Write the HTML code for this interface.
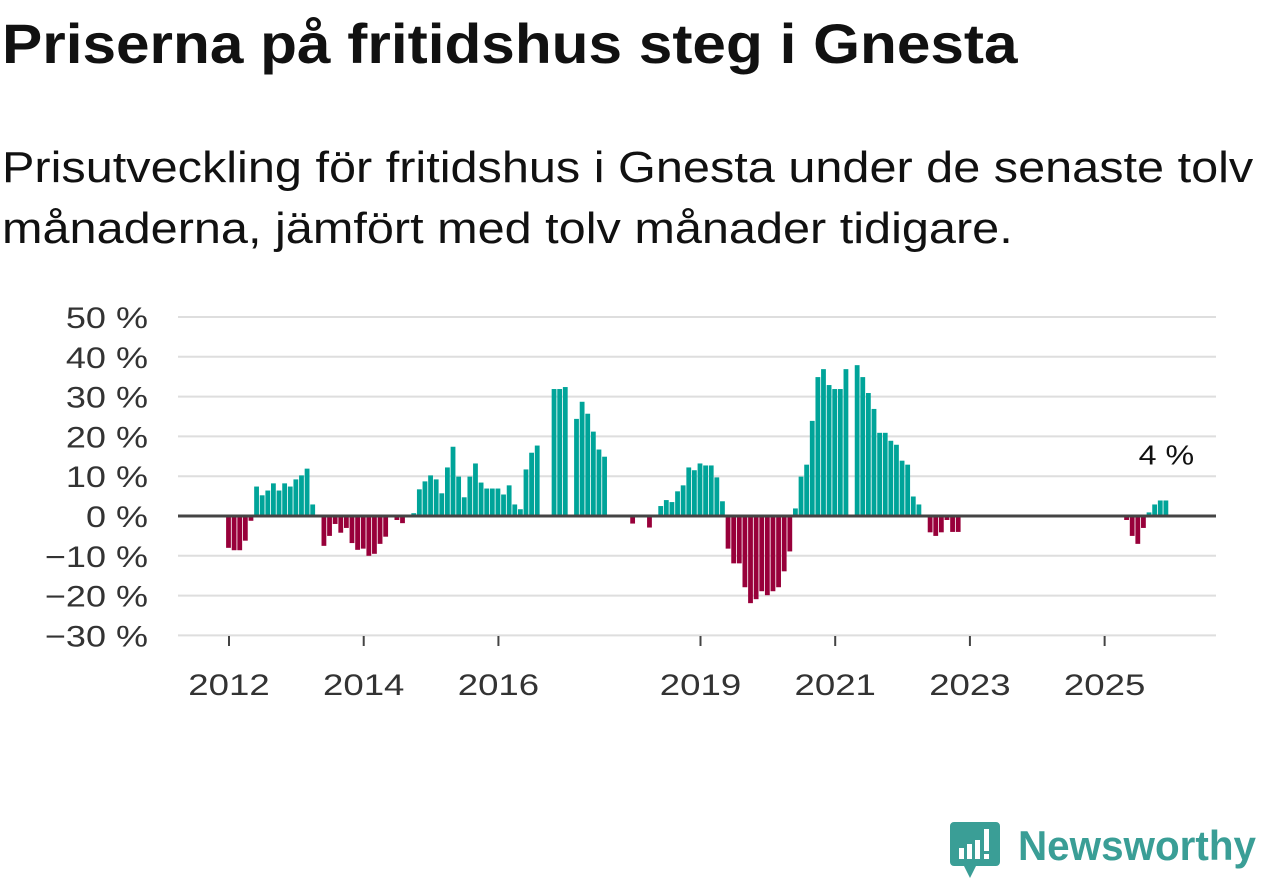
<!DOCTYPE html>
<html><head><meta charset="utf-8">
<style>
body{margin:0;width:1262px;height:879px;background:#fff;font-family:"Liberation Sans",sans-serif;overflow:hidden;position:relative}
#title{position:absolute;left:2px;top:12px;font-size:56px;line-height:1.149;font-weight:bold;color:#111;white-space:nowrap;transform-origin:0 0;transform:scaleX(1.077)}
#subtitle{position:absolute;left:2px;top:137px;font-size:44px;line-height:61px;color:#111;white-space:nowrap;transform-origin:0 0;transform:scaleX(1.105)}
#chart{position:absolute;left:0;top:0}
#logo{position:absolute;left:950px;top:818px}
</style></head><body>
<div id="title">Priserna på fritidshus steg i Gnesta</div>
<div id="subtitle">Prisutveckling för fritidshus i Gnesta under de senaste tolv<br>månaderna, jämfört med tolv månader tidigare.</div>
<svg id="chart" width="1262" height="879"></svg>
<svg id="logo" width="312" height="62">
<path d="M4 4h42a4 4 0 0 1 4 4v36a4 4 0 0 1-4 4H26l-6 12-6-12H4a4 4 0 0 1-4-4V8a4 4 0 0 1 4-4z" fill="#3a9e96"/>
<rect x="9" y="30" width="5" height="11" fill="#fff"/><rect x="17" y="26" width="5" height="15" fill="#fff"/><rect x="25" y="22" width="5" height="19" fill="#fff"/><rect x="34" y="11" width="5" height="22" fill="#fff"/><rect x="34" y="36" width="5" height="5" fill="#fff"/>
<text x="68" y="42" font-family="Liberation Sans, sans-serif" font-size="42" font-weight="bold" fill="#3a9e96" textLength="238" lengthAdjust="spacingAndGlyphs">Newsworthy</text>
</svg>
<script>
const years=["2012","2014","2016","2019","2021","2023","2025"];
const yearIdx=[0,24,48,84,108,132,156];
const yTicks=[50,40,30,20,10,0,-10,-20,-30];
const values=[-8,-8.6,-8.6,-6.2,-1.2,7.4,5.2,6.4,8.2,6.4,8.2,7.4,9.2,10.2,11.9,2.9,null,-7.5,-5,-2,-4.2,-3,-6.8,-8.5,-8.2,-10,-9.5,-7,-5.2,null,-1,-1.8,null,0.7,6.7,8.7,10.2,9.2,5.7,12.2,17.4,9.9,4.7,9.9,13.2,8.4,6.9,6.9,6.9,5.4,7.7,2.9,1.7,11.7,15.9,17.7,null,null,31.9,31.9,32.4,null,24.4,28.7,25.7,21.2,16.7,14.9,null,null,null,null,-1.9,null,null,-2.9,null,2.5,4,3.5,6.2,7.7,12.2,11.5,13.2,12.7,12.7,9.7,3.7,-8.2,-11.9,-11.9,-17.9,-21.9,-20.9,-18.9,-19.9,-18.9,-17.9,-13.9,-8.9,1.9,9.9,12.9,23.9,34.9,36.9,32.9,31.9,31.9,36.9,null,37.9,34.9,30.9,26.9,20.9,20.9,18.9,17.9,13.9,12.9,4.9,2.9,null,-4.1,-5,-4.1,-1,-4,-4,null,null,null,null,null,null,null,null,null,null,null,null,null,null,null,null,null,null,null,null,null,null,null,null,null,null,null,null,null,-1,-5,-7,-3,0.9,2.9,3.9,3.9];
const lastLabel="4 %";
const svg=document.getElementById('chart');
const NS="http://www.w3.org/2000/svg";
const y=v=>516-v*3.98;
const x=i=>228.5+i*5.613;
function mk(t,a){const e=document.createElementNS(NS,t);for(const k in a)e.setAttribute(k,a[k]);svg.appendChild(e);return e;}
function widen(el,f){const w=el.getComputedTextLength();el.setAttribute('textLength',(w*f).toFixed(1));el.setAttribute('lengthAdjust','spacingAndGlyphs');}
yTicks.forEach(t=>{
 if(t!==0){const g=mk('line',{x1:178,x2:1216,y1:y(t),y2:y(t),stroke:'#dedede','stroke-width':2});
 
 }
 const l=mk('text',{x:148,y:y(t)+11,'text-anchor':'end','font-size':30,fill:'#333','font-family':'Liberation Sans, sans-serif'});
 l.textContent=(t<0?'\u2212'+(-t):t)+' %';
 
 
 widen(l,1.2);
});
values.forEach((v,i)=>{
 if(v===null)return;
 const b=mk('rect',{x:x(i)-2.4,width:4.8,y:v>=0?y(v):y(0),height:Math.abs(y(v)-y(0)),fill:v>=0?'#00a499':'#98003a'});
 
 
});
const zl=mk('line',{x1:178,x2:1216,y1:y(0),y2:y(0),stroke:'#444','stroke-width':3});


years.forEach((yr,k)=>{
 const xx=x(yearIdx[k])+0.5;
 const tk=mk('line',{x1:xx,x2:xx,y1:636,y2:646,stroke:'#444','stroke-width':2});
 
 
 const l=mk('text',{x:xx,y:695,'text-anchor':'middle','font-size':30,fill:'#333','font-family':'Liberation Sans, sans-serif'});
 l.textContent=yr;
 
 
 widen(l,1.22);
});
const li=values.length-1;
const lb=mk('text',{x:x(li)+0.5,y:y(values[li])-36,'text-anchor':'middle','font-size':28,fill:'#111','font-family':'Liberation Sans, sans-serif'});
lb.textContent=lastLabel;


widen(lb,1.15);
</script>
</body></html>
